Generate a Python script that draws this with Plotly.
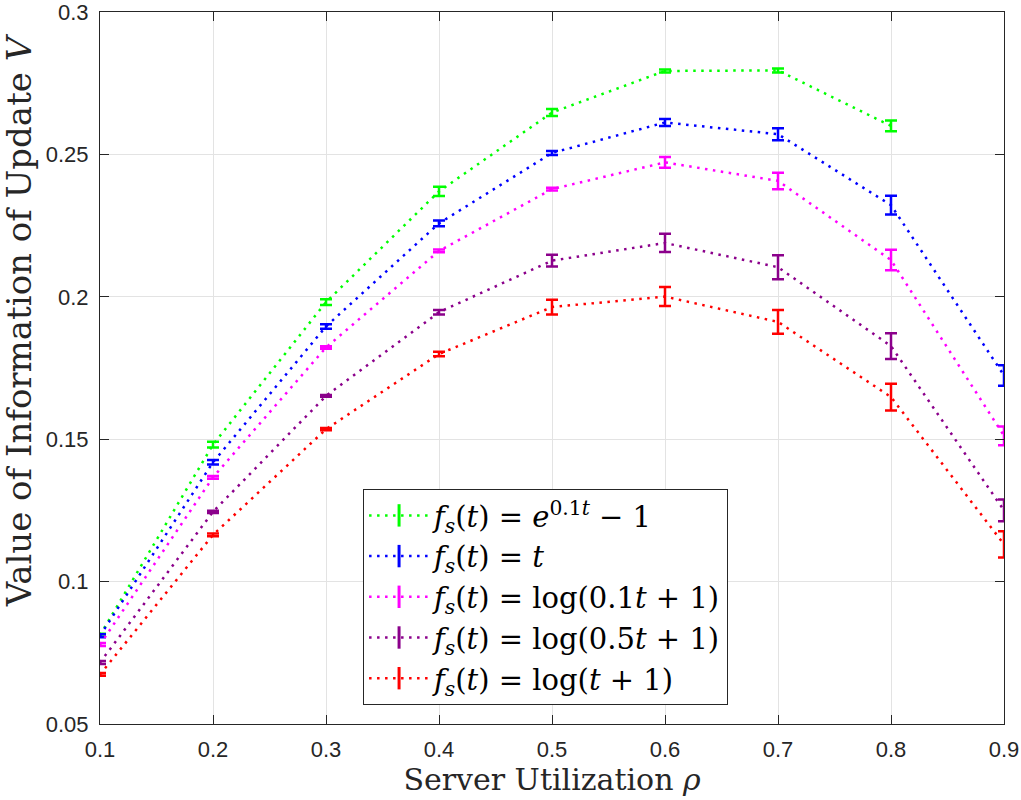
import plotly.graph_objects as go

rho = [0.1, 0.2, 0.3, 0.4, 0.5, 0.6, 0.7, 0.8, 0.9]

EQ = "&nbsp;=&nbsp;"
names = [
    f"<i>f<sub>s</sub></i>(<i>t</i>){EQ}<i>e</i><sup>0.1<i>t</i></sup> − 1",
    f"<i>f<sub>s</sub></i>(<i>t</i>){EQ}<i>t</i>",
    f"<i>f<sub>s</sub></i>(<i>t</i>){EQ}log(0.1<i>t</i>&nbsp;+&nbsp;1)",
    f"<i>f<sub>s</sub></i>(<i>t</i>){EQ}log(0.5<i>t</i>&nbsp;+&nbsp;1)",
    f"<i>f<sub>s</sub></i>(<i>t</i>){EQ}log(<i>t</i>&nbsp;+&nbsp;1)",
]
colors = ["#00ff00", "#0000ff", "#ff00ff", "#8b008b", "#ff0000"]

v_exp = [0.0812, 0.1481, 0.1981, 0.2370, 0.2647, 0.2793, 0.2795, 0.2600, None]
e_exp = [0.0005, 0.0010, 0.0010, 0.0016, 0.0012, 0.0005, 0.0007, 0.0019, None]

v_lin = [0.0810, 0.1419, 0.1896, 0.2258, 0.2505, 0.2612, 0.2571, 0.2322, 0.1724]
e_lin = [0.0005, 0.0008, 0.0008, 0.0010, 0.0007, 0.0012, 0.0021, 0.0033, 0.0036]

v_log01 = [0.0779, 0.1366, 0.1822, 0.2161, 0.2378, 0.2472, 0.2407, 0.2129, 0.1512]
e_log01 = [0.0005, 0.0005, 0.0004, 0.0005, 0.0005, 0.0019, 0.0029, 0.0036, 0.0033]

v_log05 = [0.0716, 0.1245, 0.1652, 0.1946, 0.2127, 0.2189, 0.2104, 0.1827, 0.1250]
e_log05 = [0.0005, 0.0004, 0.0003, 0.0008, 0.0021, 0.0032, 0.0042, 0.0045, 0.0038]

v_log1 = [0.0674, 0.1164, 0.1535, 0.1799, 0.1964, 0.2001, 0.1912, 0.1648, 0.1131]
e_log1 = [0.0005, 0.0005, 0.0004, 0.0008, 0.0026, 0.0033, 0.0042, 0.0047, 0.0046]

series = [(v_exp, e_exp), (v_lin, e_lin), (v_log01, e_log01), (v_log05, e_log05), (v_log1, e_log1)]

DOT = "2.5px,5.5px"

fig = go.Figure()
for (vals, errs), c in zip(series, colors):
    fig.add_trace(go.Scatter(
        x=rho, y=vals, mode="lines", showlegend=False,
        line=dict(color=c, width=2.5, dash=DOT),
        error_y=dict(type="data", array=errs, visible=True, color=c, thickness=2.5, width=6),
        cliponaxis=False,
    ))

# legend entries
for name, c in zip(names, colors):
    fig.add_trace(go.Scatter(
        x=[None], y=[None], mode="lines+markers", name=name,
        line=dict(color=c, width=2.5, dash=DOT),
        marker=dict(symbol="line-ns", size=26, line=dict(color=c, width=3)),
    ))

axis_common = dict(
    showline=True, linecolor="#262626", linewidth=1, mirror="ticks",
    ticks="inside", ticklen=9, tickcolor="#262626", tickwidth=1,
    showgrid=True, gridcolor="#e3e3e3", gridwidth=1, zeroline=False,
    automargin=False, ticklabeloverflow="allow",
    tickfont=dict(family="Liberation Sans, Arial, sans-serif", size=22, color="#262626"),
)

SERIF = "DejaVu Serif, Liberation Serif, serif"

fig.update_layout(
    width=1021, height=800,
    margin=dict(l=100, r=17, t=12, b=76),
    paper_bgcolor="white", plot_bgcolor="white",
    xaxis=dict(range=[0.1, 0.9], tickvals=rho, ticktext=[f"{r:.1f}" for r in rho],
               ticklabelstandoff=6,
               title=dict(text="Server Utilization <i>ρ</i>", standoff=4,
                          font=dict(family=SERIF, size=30, color="#262626")),
               **axis_common),
    yaxis=dict(range=[0.05, 0.3], tickvals=[0.05, 0.1, 0.15, 0.2, 0.25, 0.3],
               ticktext=["0.05", "0.1", "0.15", "0.2", "0.25", "0.3"],
               ticklabelstandoff=6,
               **axis_common),
    annotations=[dict(
        text="Value of Information of Update <i>V</i>", textangle=-90,
        xref="paper", yref="paper", x=-0.0896, y=0.567,
        xanchor="center", yanchor="middle", showarrow=False,
        font=dict(family=SERIF, size=34, color="#262626"),
    )],
    legend=dict(x=0.291, y=0.330, xanchor="left", yanchor="top",
                bordercolor="#262626", borderwidth=1, bgcolor="white",
                font=dict(family=SERIF, size=29, color="black"),
                itemwidth=60, tracegroupgap=0),
)

fig.write_html("out.html")
